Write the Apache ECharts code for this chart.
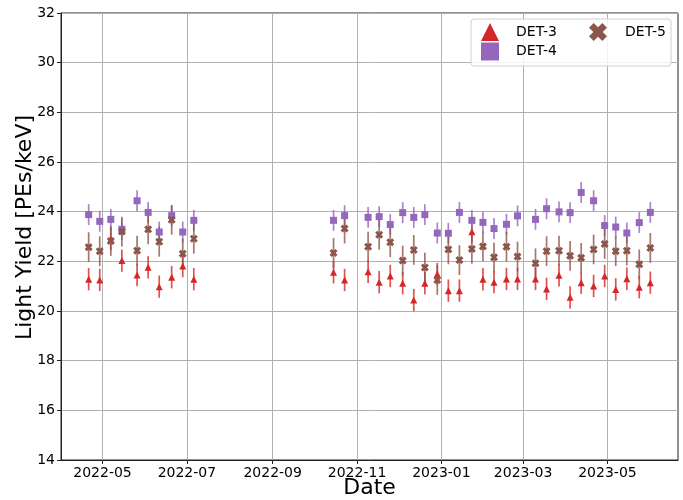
<!DOCTYPE html>
<html>
<head>
<meta charset="utf-8">
<script src="https://cdn.jsdelivr.net/npm/echarts@6/dist/echarts.min.js"></script>
<style>html,body{margin:0;padding:0;background:#fff;}#c{width:683px;height:500px;}</style>
</head>
<body>
<div id="c"></div>
<script>
const dates = ['2022-04-21','2022-04-29','2022-05-07','2022-05-15','2022-05-26','2022-06-03','2022-06-11','2022-06-20','2022-06-28','2022-07-06',
  '2022-10-15','2022-10-23','2022-11-09','2022-11-17','2022-11-25','2022-12-04','2022-12-12','2022-12-20','2022-12-29','2023-01-06','2023-01-14','2023-01-23','2023-01-31','2023-02-08',
  '2023-02-17','2023-02-25','2023-03-10','2023-03-18','2023-03-27','2023-04-04','2023-04-12','2023-04-21','2023-04-29','2023-05-07','2023-05-15','2023-05-24','2023-06-01'];
const det3 = [21.28,21.25,22.89,22.03,21.45,21.76,20.98,21.36,21.81,21.28,
  21.56,21.25,21.58,21.16,21.41,21.12,20.44,21.12,21.49,20.82,20.82,23.19,21.28,21.16,
  21.29,21.29,21.29,20.89,21.44,20.55,21.14,21.01,21.41,20.87,21.30,20.96,21.14];
const det4 = [23.88,23.61,23.69,23.29,24.44,23.97,23.18,23.84,23.18,23.65,
  23.65,23.84,23.77,23.80,23.48,23.96,23.77,23.88,23.14,23.13,23.97,23.65,23.57,23.32,
  23.49,23.83,23.69,24.12,23.99,23.96,24.77,24.44,23.44,23.38,23.14,23.56,23.97];
const det5 = [22.57,22.41,22.82,23.20,22.43,23.29,22.79,23.67,22.31,22.91,
  22.34,23.32,22.59,23.07,22.77,22.03,22.46,21.75,21.25,22.48,22.05,22.50,22.60,22.16,
  22.59,22.19,21.92,22.41,22.43,22.22,22.14,22.48,22.70,22.41,22.43,21.88,22.54];
const err3 = 0.45, err4 = 0.42, err5 = 0.6;
const xTicks = ['2022-05-01','2022-07-01','2022-09-01','2022-11-01','2023-01-01','2023-03-01','2023-05-01'];
const xMin = '2022-04-01', xMax = '2023-06-21';
const yTicksMin = 14, yTicksMax = 32, yStep = 2;
const xTitle = 'Date', yTitle = 'Light Yield [PEs/keV]';

const toMs = s => { const [y,m,d] = s.split('-').map(Number); return Date.UTC(y, m-1, d); };
const fmt = v => { const d = new Date(v); return d.getUTCFullYear() + '-' + String(d.getUTCMonth()+1).padStart(2,'0'); };
const FONT = 'DejaVu Sans';
const xPath = 'path://M0,2.6 L2.6,0 L5,2.4 L7.4,0 L10,2.6 L7.6,5 L10,7.4 L7.4,10 L5,7.6 L2.6,10 L0,7.4 L2.4,5 Z';

const dets = [
  {name:'DET-3', vals:det3, err:err3, color:'#d62728', symbol:'triangle', size:[7,7]},
  {name:'DET-4', vals:det4, err:err4, color:'#9467bd', symbol:'rect', size:[7,7]},
  {name:'DET-5', vals:det5, err:err5, color:'#8c564b', symbol:xPath, size:[8,8]}
];

const series = [];
dets.forEach(d => {
  series.push({
    type:'custom', name: d.name + ' err', silent:true,
    data: dates.map((t,i) => [toMs(t), d.vals[i], d.err]),
    encode:{x:0, y:1},
    renderItem: (params, api) => {
      const x = api.value(0), y = api.value(1), e = api.value(2);
      const p1 = api.coord([x, y - e]), p2 = api.coord([x, y + e]);
      return {type:'line', shape:{x1:p1[0], y1:p1[1], x2:p2[0], y2:p2[1]},
        style:{stroke:d.color, lineWidth:1.7, opacity:0.8}};
    }
  });
  series.push({
    type:'scatter', name:d.name, symbol:d.symbol, symbolSize:d.size,
    itemStyle:{color:d.color, opacity:1},
    data: dates.map((t,i) => [toMs(t), d.vals[i]])
  });
});

const chart = echarts.init(document.getElementById('c'), null, {renderer:'canvas'});
chart.setOption({
  animation:false,
  textStyle:{fontFamily:FONT},
  grid:{left:61, right:5, top:13, bottom:40, show:true, borderColor:'#222', borderWidth:1, containLabel:false, outerBoundsMode:'none'},
  xAxis:{
    type:'value', min:toMs(xMin), max:toMs(xMax),
    name:xTitle, nameLocation:'middle', nameGap:17, nameMoveOverlap:false,
    nameTextStyle:{fontSize:22, color:'#000', fontFamily:FONT},
    axisLine:{show:true, lineStyle:{color:'#222', width:1}},
    axisTick:{show:true, length:4, customValues:xTicks.map(toMs), lineStyle:{color:'#222'}},
    axisLabel:{customValues:xTicks.map(toMs), formatter:fmt, fontSize:14, color:'#000', margin:6, fontFamily:FONT},
    splitLine:{show:true, lineStyle:{color:'#b0b0b0', width:1}}
  },
  yAxis:{
    type:'value', min:yTicksMin, max:yTicksMax, interval:yStep,
    axisLine:{show:true, lineStyle:{color:'#222', width:1}},
    axisTick:{show:true, length:4, lineStyle:{color:'#222'}},
    axisLabel:{fontSize:14, color:'#000', margin:6, fontFamily:FONT},
    splitLine:{show:true, lineStyle:{color:'#b0b0b0', width:1}}
  },
  graphic:[
    {type:'text', x:25.5, y:227.5, rotation:Math.PI/2,
      style:{text:yTitle, fontSize:22, fontFamily:FONT, fill:'#000', align:'center', verticalAlign:'middle'}},
    {type:'rect', z:50, shape:{x:471, y:19, width:200, height:47, r:3},
      style:{fill:'rgba(255,255,255,0.85)', stroke:'#d0d0d0', lineWidth:1}}
  ],
  legend:[
    {z:60, orient:'vertical', left:481, top:23, padding:0, itemWidth:18, itemHeight:18, itemGap:1.5,
      selectedMode:false, textStyle:{fontSize:14, color:'#000', fontFamily:FONT, padding:[0,0,0,12]},
      data:[{name:'DET-3', icon:'triangle'},{name:'DET-4', icon:'rect'}]},
    {z:60, orient:'vertical', left:589, top:23, padding:0, itemWidth:18, itemHeight:18, itemGap:1.5,
      selectedMode:false, textStyle:{fontSize:14, color:'#000', fontFamily:FONT, padding:[0,0,0,13]},
      data:[{name:'DET-5', icon:xPath}]}
  ],
  series
});
</script>
</body>
</html>
